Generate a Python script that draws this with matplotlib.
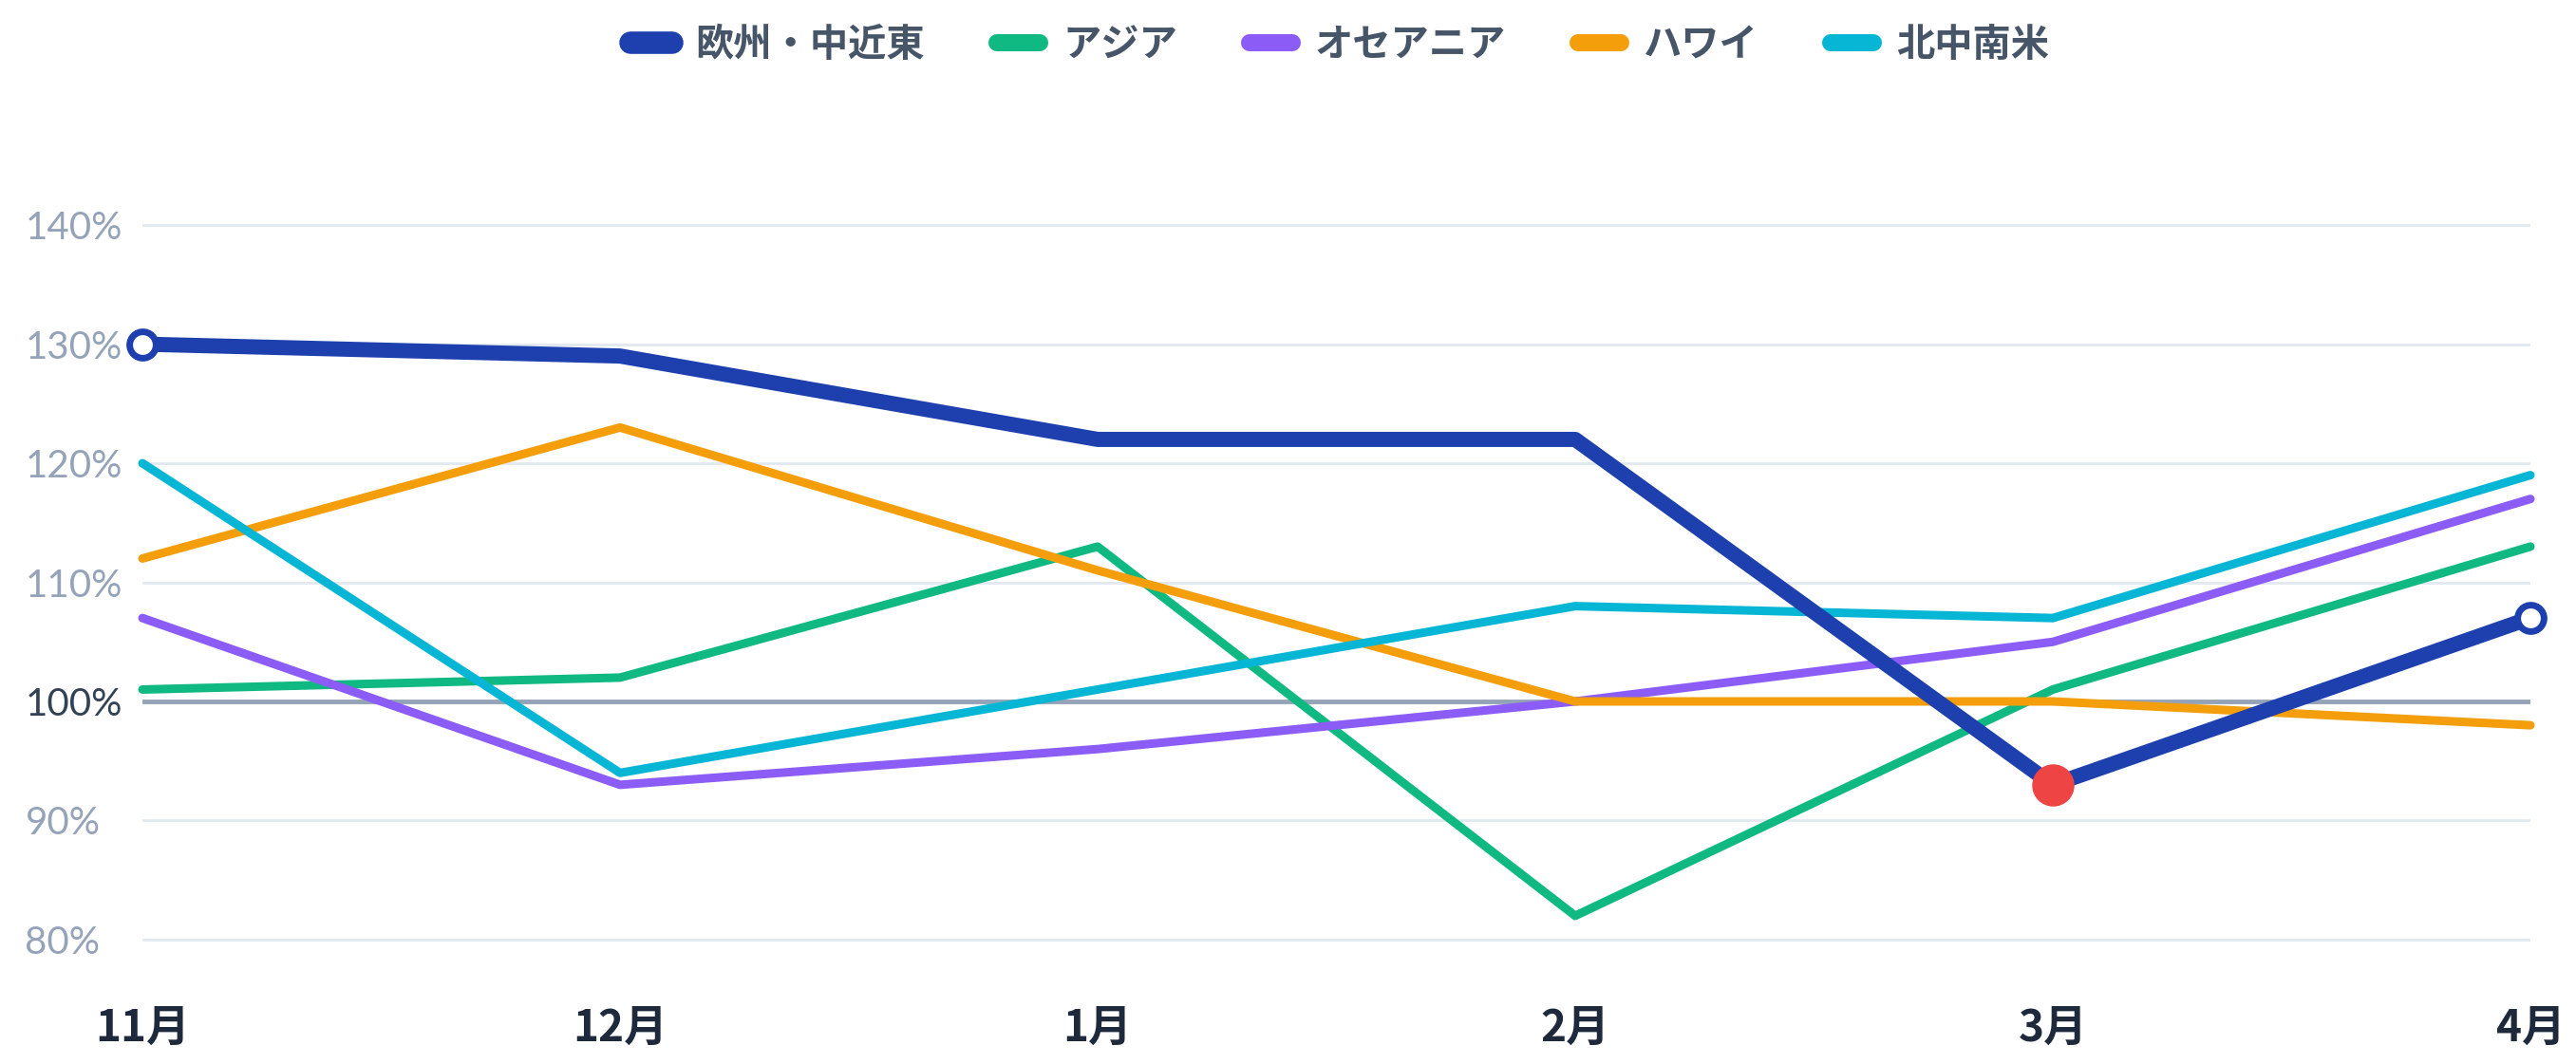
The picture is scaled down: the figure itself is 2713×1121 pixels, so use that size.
import numpy as np
import matplotlib
matplotlib.use('Agg')
import matplotlib.pyplot as plt

plt.rcParams['font.family'] = ['Noto Sans CJK JP', 'DejaVu Sans']

months = ['11月', '12月', '1月', '2月', '3月', '4月']
yticks = [80, 90, 100, 110, 120, 130, 140]

europe = [130, 129, 122, 122, 93, 107]
asia = [101, 102, 113, 82, 101, 113]
oceania = [107, 93, 96, 100, 105, 117]
hawaii = [112, 123, 111, 100, 100, 98]
america = [120, 94, 101, 108, 107, 119]

names = ['欧州・中近東', 'アジア', 'オセアニア', 'ハワイ', '北中南米']
colors = ['#1e40af', '#10b981', '#8b5cf6', '#f59e0b', '#06b6d4']

fig = plt.figure(figsize=(27.13, 11.21), dpi=100)
ax = fig.add_axes([150/2713, 0.0833, (2665-150)/2713, 0.8221-0.0833])

xx = np.arange(len(months))

# grid + 100% baseline
for yv in yticks:
    if yv == 100:
        ax.axhline(yv, color='#94a3b8', lw=3.5, zorder=1)
    else:
        ax.axhline(yv, color='#e2e8f0', lw=2, zorder=0)

lines = []
series = [europe, asia, oceania, hawaii, america]
for ii in range(1, 5):
    ln, = ax.plot(xx, series[ii], color=colors[ii], lw=6.5, solid_capstyle='round',
                  solid_joinstyle='round', zorder=2 + ii * 0.1, clip_on=False)
    lines.append(ln)

eu, = ax.plot(xx, europe, color=colors[0], lw=11.5, solid_capstyle='round',
              solid_joinstyle='round', zorder=4, clip_on=False)
lines.insert(0, eu)

# hollow end markers and the minimum point
ax.plot([xx[0], xx[-1]], [europe[0], europe[-1]], 'o', ms=20, mfc='white',
        mec=colors[0], mew=5, zorder=5, clip_on=False)
imin = int(np.argmin(europe))
ax.plot(xx[imin], europe[imin], 'o', ms=31, color='#ef4444', zorder=6)

ax.set_xlim(xx[0], xx[-1])
ax.set_ylim(77, 143)
ax.set_xticks(xx)
ax.set_xticklabels(months, fontsize=33, fontweight='bold', color='#1e293b')
ax.set_yticks(yticks)
ax.set_yticklabels([f'{v}%' for v in yticks], fontsize=29, family=['Lato', 'DejaVu Sans'],
                   ha='left')
for lab, v in zip(ax.get_yticklabels(), yticks):
    lab.set_color('#334155' if v == 100 else '#94a3b8')
ax.tick_params(axis='y', length=0, pad=89)
ax.tick_params(axis='x', length=0, pad=24)
for sp in ax.spines.values():
    sp.set_visible(False)

leg = fig.legend(lines, names, loc='upper center', bbox_to_anchor=(0.52, 1.008), ncol=5,
                 frameon=False, fontsize=29, handlelength=1.1, columnspacing=1.9,
                 handletextpad=0.6)
for ln, txt in zip(leg.get_lines(), leg.get_texts()):
    ln.set_linewidth(13)
    ln.set_solid_capstyle('round')
    txt.set_color('#475569')
    txt.set_fontweight('bold')
leg.get_lines()[0].set_linewidth(17)

fig.savefig('out.png', dpi=100)
